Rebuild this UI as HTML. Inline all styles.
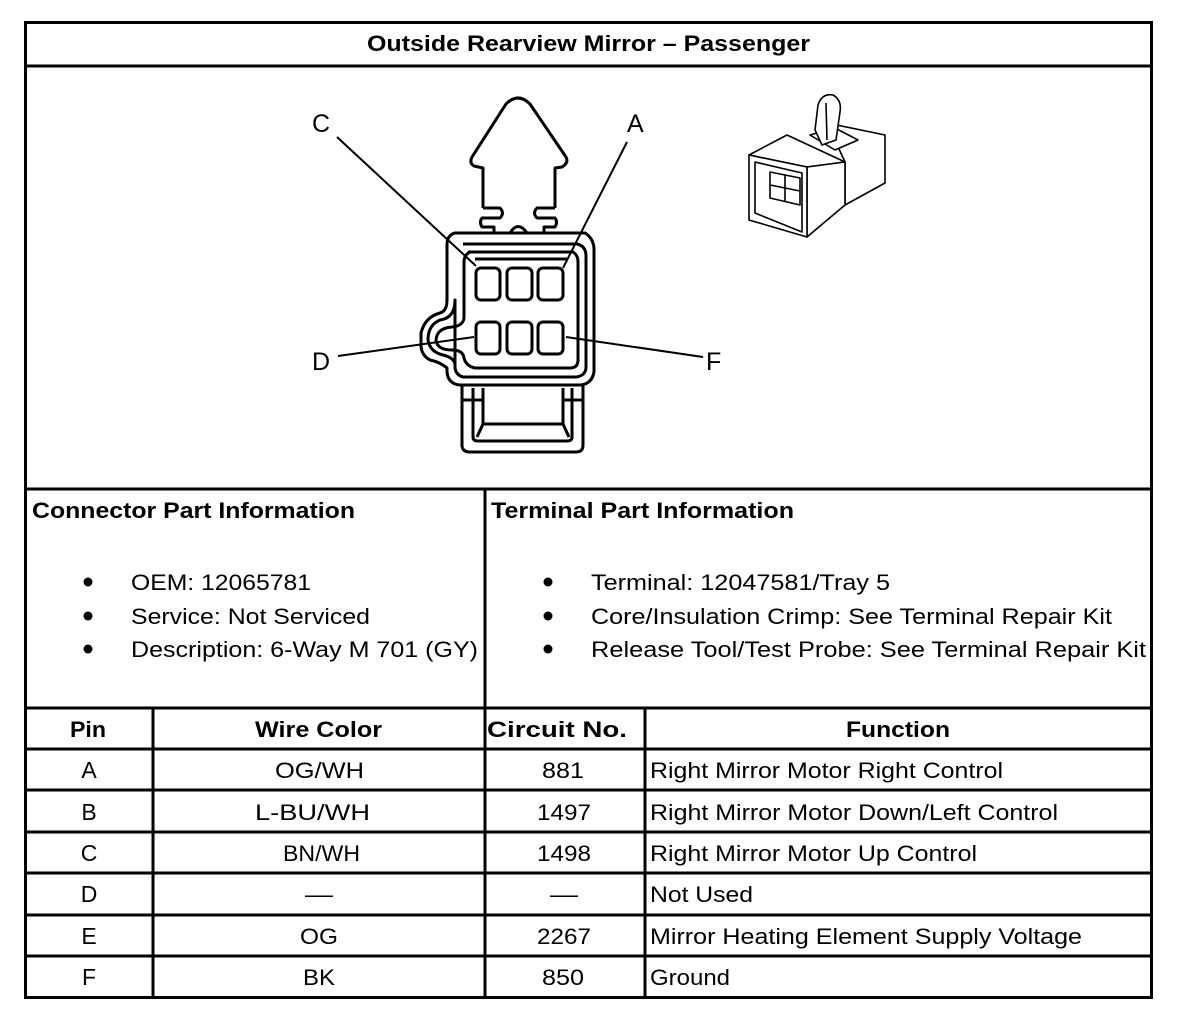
<!DOCTYPE html>
<html><head><meta charset="utf-8"><style>
html,body{margin:0;padding:0;background:#fff}
svg{display:block}
text{font-family:"Liberation Sans",Arial,sans-serif;fill:#000}
.b{font-weight:bold}
</style></head><body>
<svg width="1184" height="1022" viewBox="0 0 1184 1022" xmlns="http://www.w3.org/2000/svg">
<g stroke="#000" stroke-width="3" fill="none">
<rect x="25.5" y="22.5" width="1126" height="975"/>
<line x1="25" y1="66" x2="1152" y2="66"/>
<line x1="25" y1="489" x2="1152" y2="489"/>
<line x1="25" y1="708" x2="1152" y2="708"/>
<line x1="485" y1="489" x2="485" y2="998"/>
<line x1="153" y1="708" x2="153" y2="998"/>
<line x1="645" y1="708" x2="645" y2="998"/>
<line x1="25" y1="749" x2="1152" y2="749"/>
<line x1="25" y1="790" x2="1152" y2="790"/>
<line x1="25" y1="832" x2="1152" y2="832"/>
<line x1="25" y1="873" x2="1152" y2="873"/>
<line x1="25" y1="915" x2="1152" y2="915"/>
<line x1="25" y1="956" x2="1152" y2="956"/>
</g>
<text x="367" y="51" class="b" font-size="22" textLength="443" lengthAdjust="spacingAndGlyphs">Outside Rearview Mirror – Passenger</text>

<!-- connector face -->
<g stroke="#000" stroke-width="3" fill="none" stroke-linejoin="round">
<path d="M483,208 L483,168 L474,166 Q469,163 472,157 L506,104 Q518,92 530,104 L566,157 Q569,163 562,167 L555,168 L555,208"/>
<path d="M483,208 L500,208 Q505,213 500,218 L482,218 Q479,222 482,227 L494,227 L494,233 M555,208 L537,208 Q532,213 537,218 L555,218 Q558,222 555,227 L544,227 L544,233"/>
<path d="M510,233 Q518,220 527,233"/>
<path d="M455,233 L585,233 Q593,238 594,248 L594,372 Q592,384 580,385 L460,385 Q448,384 447,372 L447,368 Q440,362 430,360 Q421,355 421,345 L421,333 Q425,317 440,313 Q447,311 447,300 L447,245 Q447,235 455,233 Z"/>
<path d="M463,244 L577,244 Q586,246 586,256 L586,368 Q585,376 576,377 L463,377 Q456,375 455,368 L455,300 Q455,318 440,320 Q428,325 428,340 Q430,352 443,355 Q455,358 455,365"/>
<path d="M468,252 L573,252 Q578,255 578,262 L578,360 Q578,368 570,368 L475,368 Q466,366 464,358 Q463,350 452,350 Q437,350 436,340 Q437,328 452,327 Q463,326 464,318 L464,262 Q464,255 470,252"/>
<path d="M475,259 L568,259"/>
<rect x="476" y="268" width="24" height="32" rx="5"/>
<rect x="507" y="268" width="25" height="32" rx="5"/>
<rect x="538" y="268" width="25" height="32" rx="5"/>
<rect x="476" y="322" width="24" height="32" rx="5"/>
<rect x="507" y="322" width="25" height="32" rx="5"/>
<rect x="538" y="322" width="25" height="32" rx="5"/>
<path d="M462,385 L462,445 Q462,452 470,452 L576,452 Q583,452 583,445 L583,385"/>
<path d="M473,388 L473,437 Q473,441 478,441 L567,441 Q572,441 572,437 L572,388"/>
<path d="M462,400 L483,400 L483,388 M583,400 L563,400 L563,388"/>
<path d="M483,388 L483,424 L477,437 M563,388 L563,424 L569,437 M483,424 L563,424"/>
</g>
<g stroke="#000" stroke-width="2">
<line x1="337" y1="137" x2="476" y2="266"/>
<line x1="627" y1="142" x2="563" y2="268"/>
<line x1="338" y1="356" x2="474" y2="337"/>
<line x1="566" y1="337" x2="703" y2="357"/>
</g>
<text x="312" y="132" font-size="25">C</text>
<text x="627" y="132" font-size="25">A</text>
<text x="312" y="370" font-size="25">D</text>
<text x="706" y="370" font-size="25">F</text>

<!-- 3D connector -->
<g stroke="#000" stroke-width="1.6" fill="#fff" stroke-linejoin="round">
<path d="M827,123 L885,135 L885,183 L845,205 L845,162 Z"/>
<path d="M749,155 L787,135 L845,162 L807,167 Z"/>
<path d="M807,167 L845,162 L845,205 L807,237 Z"/>
<path d="M749,155 L807,167 L807,237 L749,220 Z"/>
<path d="M755,162 L802,173 L802,232 L755,213 Z" fill="none"/>
<path d="M770,172 L800,178 L800,205 L770,198 Z" fill="none"/>
<path d="M785,175 L785,201 M770,185 L800,191" fill="none"/>
<path d="M810,135 L835,128 L858,140 L835,150 Z"/>
<path d="M815,130 L818,105 Q822,93 833,95 Q842,100 840,112 L836,140 L822,145 Z"/>
<path d="M826,103 L827,140" fill="none"/>
</g>

<text x="32" y="518" class="b" font-size="22" textLength="323" lengthAdjust="spacingAndGlyphs">Connector Part Information</text>
<text x="491" y="518" class="b" font-size="22" textLength="303" lengthAdjust="spacingAndGlyphs">Terminal Part Information</text>
<g fill="#000">
<circle cx="88" cy="582" r="4.5"/><circle cx="88" cy="616" r="4.5"/><circle cx="88" cy="649" r="4.5"/>
<circle cx="548" cy="582" r="4.5"/><circle cx="548" cy="616" r="4.5"/><circle cx="548" cy="649" r="4.5"/>
</g>
<g font-size="22">
<text x="131" y="590" textLength="180" lengthAdjust="spacingAndGlyphs">OEM: 12065781</text>
<text x="131" y="624" textLength="239" lengthAdjust="spacingAndGlyphs">Service: Not Serviced</text>
<text x="131" y="657" textLength="347" lengthAdjust="spacingAndGlyphs">Description: 6-Way M 701 (GY)</text>
<text x="591" y="590" textLength="299" lengthAdjust="spacingAndGlyphs">Terminal: 12047581/Tray 5</text>
<text x="591" y="624" textLength="521" lengthAdjust="spacingAndGlyphs">Core/Insulation Crimp: See Terminal Repair Kit</text>
<text x="591" y="657" textLength="555" lengthAdjust="spacingAndGlyphs">Release Tool/Test Probe: See Terminal Repair Kit</text>
</g>
<g font-size="22" class="b">
<text x="70" y="737" textLength="36" lengthAdjust="spacingAndGlyphs">Pin</text>
<text x="255" y="737" textLength="127" lengthAdjust="spacingAndGlyphs">Wire Color</text>
<text x="487" y="737" textLength="140" lengthAdjust="spacingAndGlyphs">Circuit No.</text>
<text x="846" y="737" textLength="104" lengthAdjust="spacingAndGlyphs">Function</text>
</g>
<g font-size="23" text-anchor="middle">
<text x="89" y="778">A</text><text x="89" y="820">B</text><text x="89" y="861">C</text>
<text x="89" y="902">D</text><text x="89" y="944">E</text><text x="89" y="985">F</text>
</g>
<g font-size="22">
<text x="275" y="778" textLength="89" lengthAdjust="spacingAndGlyphs">OG/WH</text>
<text x="255" y="820" textLength="115" lengthAdjust="spacingAndGlyphs">L-BU/WH</text>
<text x="283" y="861" textLength="77" lengthAdjust="spacingAndGlyphs">BN/WH</text>
<text x="305" y="902" textLength="28" lengthAdjust="spacingAndGlyphs">—</text>
<text x="300" y="944" textLength="38" lengthAdjust="spacingAndGlyphs">OG</text>
<text x="303" y="985" textLength="32" lengthAdjust="spacingAndGlyphs">BK</text>
<text x="542" y="778" textLength="42" lengthAdjust="spacingAndGlyphs">881</text>
<text x="537" y="820" textLength="54" lengthAdjust="spacingAndGlyphs">1497</text>
<text x="537" y="861" textLength="54" lengthAdjust="spacingAndGlyphs">1498</text>
<text x="550" y="902" textLength="28" lengthAdjust="spacingAndGlyphs">—</text>
<text x="537" y="944" textLength="54" lengthAdjust="spacingAndGlyphs">2267</text>
<text x="542" y="985" textLength="42" lengthAdjust="spacingAndGlyphs">850</text>
<text x="650" y="778" textLength="353" lengthAdjust="spacingAndGlyphs">Right Mirror Motor Right Control</text>
<text x="650" y="820" textLength="408" lengthAdjust="spacingAndGlyphs">Right Mirror Motor Down/Left Control</text>
<text x="650" y="861" textLength="327" lengthAdjust="spacingAndGlyphs">Right Mirror Motor Up Control</text>
<text x="650" y="902" textLength="103" lengthAdjust="spacingAndGlyphs">Not Used</text>
<text x="650" y="944" textLength="432" lengthAdjust="spacingAndGlyphs">Mirror Heating Element Supply Voltage</text>
<text x="650" y="985" textLength="80" lengthAdjust="spacingAndGlyphs">Ground</text>
</g>
</svg>
</body></html>
